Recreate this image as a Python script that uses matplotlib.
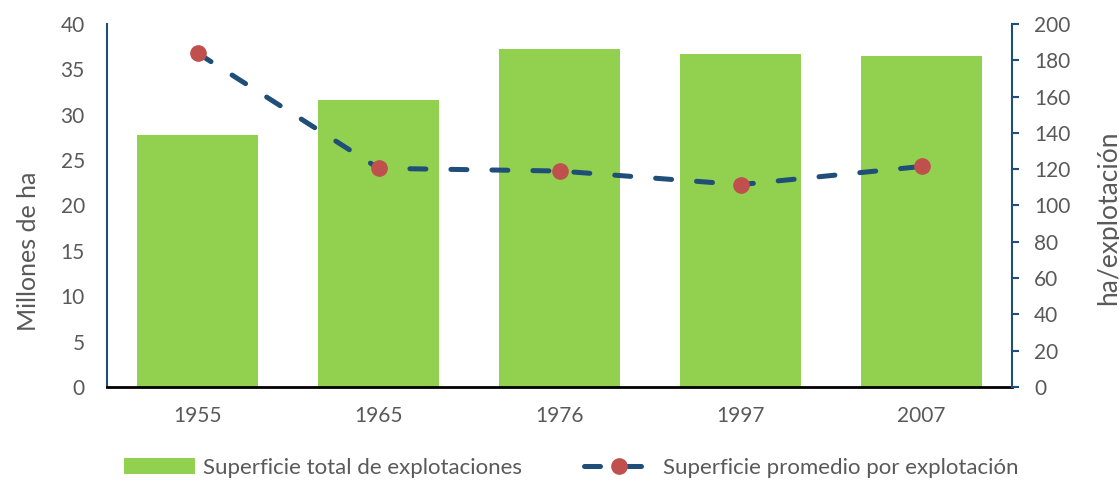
import matplotlib
matplotlib.use("Agg")
import matplotlib.pyplot as plt
import numpy as np

years = ["1955", "1965", "1976", "1997", "2007"]
superficie_total = [27.8, 31.6, 37.3, 36.7, 36.5]
superficie_promedio = [184, 120.5, 119, 111.5, 121.5]

plt.rcParams['font.family'] = ['Lato', 'DejaVu Sans']
tick_color = '#595959'
line_color = '#1F4E79'
marker_color = '#C0504D'
bar_color = '#92D050'

fig = plt.figure(figsize=(11.19, 4.83), dpi=100)
ax = fig.add_axes([107/1119, 1-387/483, (1012-107)/1119, (387-24)/483])
x = np.arange(len(years))
bars = ax.bar(x, superficie_total, width=0.67, color=bar_color, label='Superficie total de explotaciones', zorder=2)
ax.set_xlim(-0.5, len(years)-0.5)
ax.set_ylim(0, 40)
ax.set_yticks(range(0, 41, 5))
ax.set_xticks(x)
ax.set_xticklabels(years)
ax.tick_params(axis='y', length=0, labelsize=15, colors=tick_color, pad=16)
ax.tick_params(axis='x', length=0, labelsize=15, colors=tick_color, pad=14)
ax.spines['top'].set_visible(False)
ax.spines['right'].set_visible(False)
ax.spines['left'].set_color(line_color)
ax.spines['left'].set_linewidth(1.5)
ax.spines['bottom'].set_color('black')
ax.spines['bottom'].set_linewidth(2)
ax.spines['bottom'].set_zorder(5)
ax.set_ylabel('Millones de ha', fontsize=18, color=tick_color)
ax.yaxis.set_label_coords(-67/905, 1 - (251-24)/363)

ax2 = ax.twinx()
line, = ax2.plot(x, superficie_promedio, color=line_color, lw=3.6, dashes=(3.2, 5.0),
                 dash_capstyle='round', marker='o', markersize=11,
                 markerfacecolor=marker_color, markeredgecolor=marker_color,
                 label='Superficie promedio por explotación', zorder=3)
ax2.set_ylim(0, 200)
ax2.set_yticks(range(0, 201, 20))
ax2.tick_params(axis='y', length=5, width=1.5, color=line_color, labelsize=15, labelcolor=tick_color, pad=11)
for s in ['top', 'left', 'bottom']:
    ax2.spines[s].set_visible(False)
ax2.spines['right'].set_color(line_color)
ax2.spines['right'].set_linewidth(1.5)
ax2.set_ylabel('ha/explotación', fontsize=19, color=tick_color)
ax2.yaxis.set_label_coords(1 + 84/905, 1 - (218-24)/363)

fig.legend(handles=[bars, line], loc='center', bbox_to_anchor=(571/1119, 1-468/483),
           ncol=2, frameon=False, fontsize=16, labelcolor=tick_color,
           handlelength=3.2, columnspacing=2.8, handletextpad=0.35)

fig.savefig('out.png', dpi=100)
